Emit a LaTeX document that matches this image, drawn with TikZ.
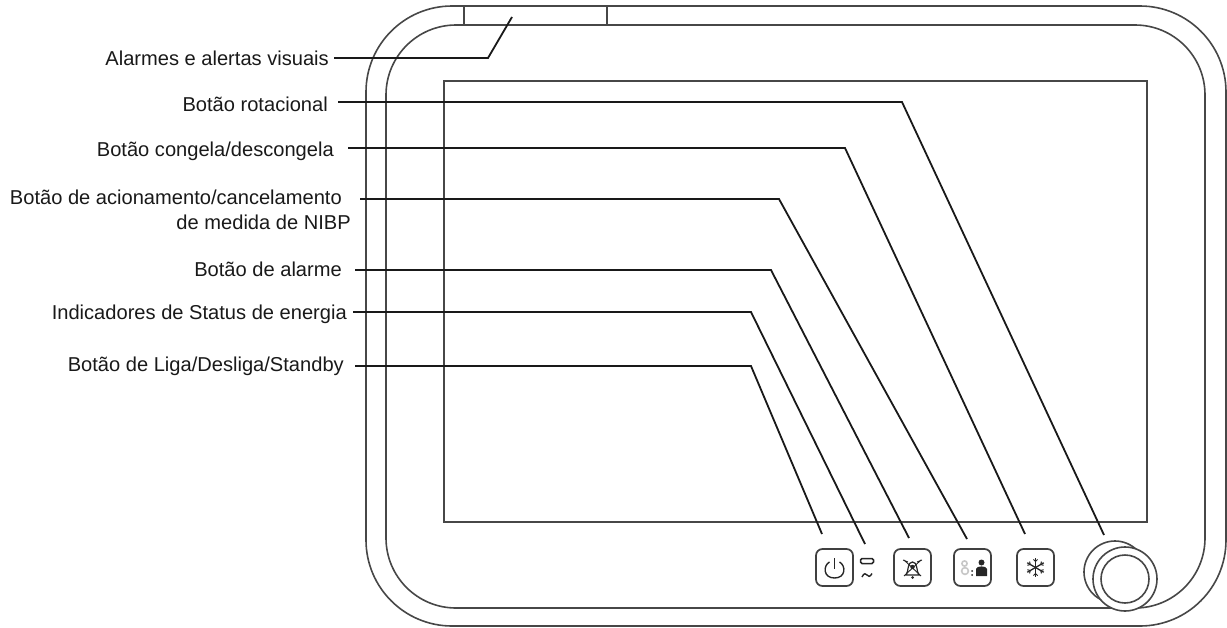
\documentclass[tikz,border=0pt]{standalone}
\usepackage{fontspec}
\setmainfont{Liberation Sans}
\tikzset{
  outline/.style={draw=black!72,line width=1.6pt},
  leader/.style={draw=black!90,line width=1.8pt},
  lbl/.style={inner sep=0pt,anchor=base east,font=\fontsize{20.1}{25}\selectfont,text=black!90},
  btn/.style={draw=black!75,line width=1.7pt,rounded corners=6.5pt},
  ico/.style={draw=black!85,line width=1.2pt}
}
\begin{document}
\begin{tikzpicture}[x=1pt,y=-1pt]
\useasboundingbox (0,0) rectangle (1227,627);
% bezel
\draw[outline,rounded corners=86pt] (366,6) rectangle (1226,626);
\draw[outline,rounded corners=70pt] (386,25) rectangle (1205,608);
\draw[outline] (464,6) -- (464,25);
\draw[outline] (607,6) -- (607,25);
% screen
\draw[outline] (444,81) rectangle (1147,522);
% labels
\node[lbl] (l1) at (329,65) {Alarmes e alertas visuais};
\node[lbl] (l2) at (328,111) {Botão rotacional};
\node[lbl] (l3) at (334,156) {Botão congela/descongela};
\node[lbl] (l4) at (342,204) {Botão de acionamento/cancelamento};
\node[lbl] (l4b) at (351,229) {de medida de NIBP};
\node[lbl] (l5) at (342,276) {Botão de alarme};
\node[lbl] (l6) at (347,319) {Indicadores de Status de energia};
\node[lbl] (l7) at (344,371) {Botão de Liga/Desliga/Standby};
% leader starts, next to their labels
\coordinate (s1) at (334,58);
\coordinate (s2) at (338,102);
\coordinate (s3) at (348,148);
\coordinate (s4) at (360,199);
\coordinate (s5) at (355,270);
\coordinate (s6) at (353,312);
\coordinate (s7) at (355,366);
% leader ends
\coordinate (e1) at (512,17);
\coordinate (e2) at (1104,535);
\coordinate (e3) at (1025,534);
\coordinate (e4) at (967,539);
\coordinate (e5) at (909,538);
\coordinate (e6) at (865,544);
\coordinate (e7) at (822,534);
\draw[leader] (s1) -- (488,58) -- (e1);
\draw[leader] (s2) -- (902,102) -- (e2);
\draw[leader] (s3) -- (845,148) -- (e3);
\draw[leader] (s4) -- (779,199) -- (e4);
\draw[leader] (s5) -- (771,270) -- (e5);
\draw[leader] (s6) -- (751,312) -- (e6);
\draw[leader] (s7) -- (751,366) -- (e7);
% buttons
\draw[btn] (816,549) rectangle (853,586);
\draw[btn] (894,549) rectangle (931,586);
\draw[btn] (954,549) rectangle (991,586);
\draw[btn] (1017,549) rectangle (1054,586);
% power icon
\draw[ico,line width=1.4pt] (829.5,562) .. controls (823,565.5) and (823,578) .. (834.5,578) .. controls (846,578) and (846,565.5) .. (839.5,562);
\draw[ico,line width=1.4pt] (834.5,558) -- (834.5,569);
% power status indicators
\draw[ico,line width=1.5pt,rounded corners=1.5pt] (860.5,558.5) rectangle (873.5,563.5);
\draw[ico,line width=1.4pt] (862,577) .. controls (864,572.5) and (866,573.5) .. (867,575) .. controls (868,576.5) and (870,577.5) .. (872,573.5);
% alarm icon
\draw[ico] (906,575) .. controls (909,571) and (907,562) .. (912.5,562) .. controls (918,562) and (916,571) .. (919,575) -- cycle;
\draw[ico,line width=0.9pt] (904,560) -- (921,576);
\draw[ico,line width=0.9pt] (921,560) -- (904,576);
\draw[ico,line width=0.9pt] (903,560) -- (908,562);
\draw[ico,line width=0.9pt] (922,560) -- (917,562);
\fill[black!85] (912.5,567) circle[radius=2.2];
\fill[black!85] (912.5,577.5) circle[radius=1.5];
% person icon
\draw[black!22,line width=1.6pt] (964.5,563.5) circle[radius=2.6];
\draw[black!22,line width=1.6pt] (965,571) circle[radius=3.4];
\fill[black!85] (972,571) circle[radius=1];
\fill[black!85] (972,575) circle[radius=1];
\fill[black!85] (981.5,562.5) circle[radius=3];
\fill[black!85] (976,576) -- (976,569) .. controls (976,565.5) and (987,565.5) .. (987,569) -- (987,576) -- cycle;
% snowflake icon
\foreach \a in {30,90,150,210,270,330}{
  \draw[ico,line width=1.3pt] (1035.5,567.5) -- ++(\a:9.5);
  \draw[ico,line width=1pt] (1035.5,567.5) ++(\a:6) -- ++(\a+45:3);
  \draw[ico,line width=1pt] (1035.5,567.5) ++(\a:6) -- ++(\a-45:3);
}
% knob
\draw[outline] (1115,572) circle[radius=31];
\draw[outline,fill=white] (1125,579) circle[radius=32];
\draw[outline] (1125,579) circle[radius=24];
\end{tikzpicture}
\end{document}
